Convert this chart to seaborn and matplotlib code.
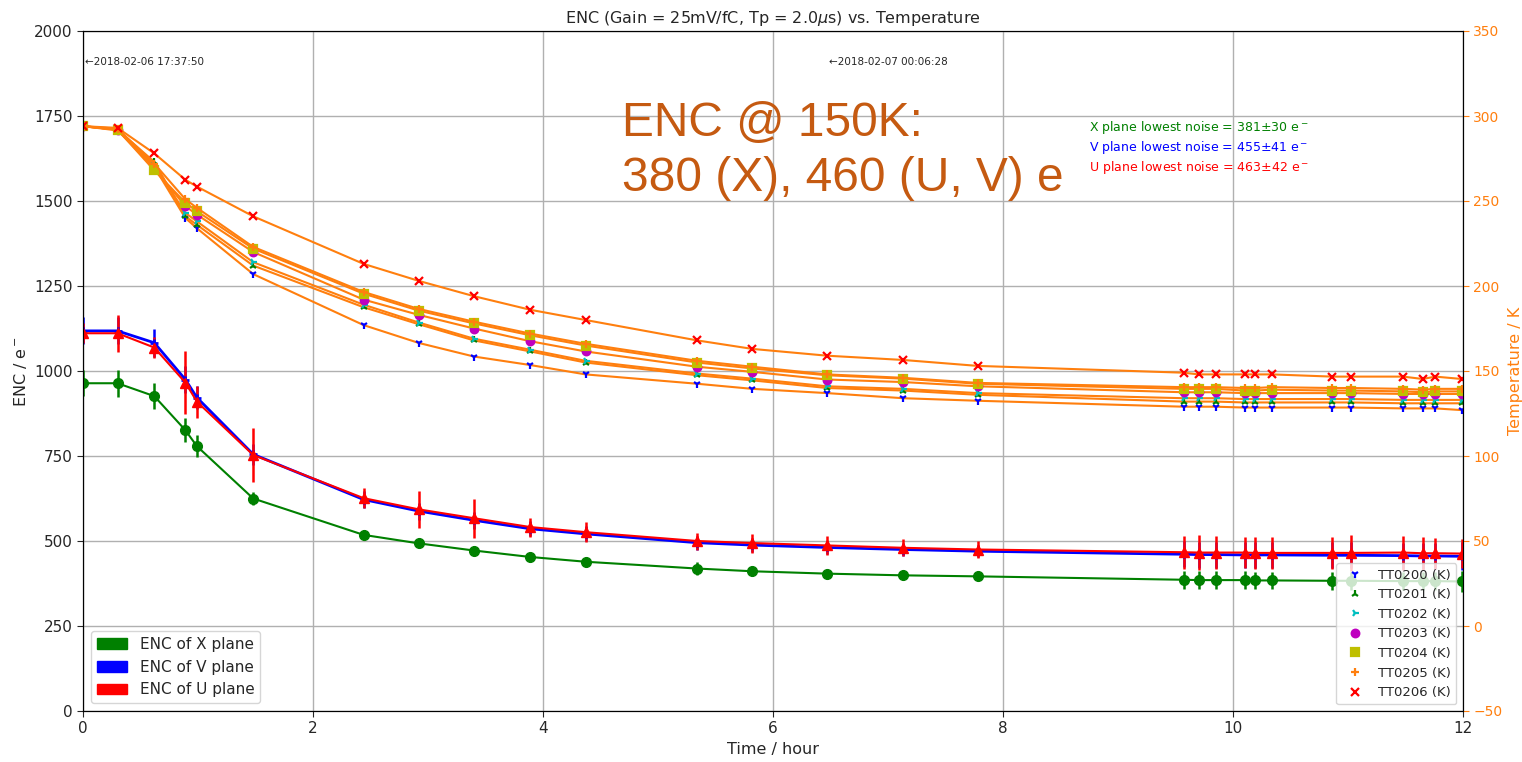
import matplotlib
matplotlib.use("Agg")
import matplotlib.pyplot as plt
import matplotlib.patches as mpatches
import seaborn as sns
import numpy as np

# ---------------- data ----------------
time_h = [0.0, 0.30, 0.62, 0.89, 0.99, 1.48, 2.44, 2.92, 3.40, 3.89, 4.37, 5.34, 5.82, 6.47,
          7.13, 7.78, 9.57, 9.70, 9.85, 10.10, 10.19, 10.34, 10.86, 11.03, 11.48, 11.65, 11.76, 11.99]

enc_x = [964, 964, 926, 826, 779, 625, 518, 493, 472, 453, 439, 419, 411, 404,
         399, 396, 386, 385, 385, 385, 384, 384, 383, 383, 382, 382, 382, 381]
err_x = [38, 40, 38, 36, 33, 20, 15, 12, 12, 12, 10, 18, 14, 12,
         10, 10, 26, 26, 26, 26, 26, 26, 26, 26, 26, 26, 26, 30]

enc_v = [1118, 1118, 1083, 975, 922, 755, 622, 588, 561, 536, 521, 495, 488, 481,
         475, 470, 461, 460, 460, 459, 459, 459, 458, 458, 457, 456, 456, 455]
err_v = [40, 40, 42, 40, 35, 30, 25, 25, 25, 22, 22, 20, 20, 20,
         20, 18, 38, 38, 38, 38, 38, 38, 38, 38, 38, 38, 38, 41]

enc_u = [1111, 1111, 1069, 966, 910, 753, 626, 593, 567, 541, 526, 500, 494, 487,
         480, 475, 467, 466, 466, 466, 465, 465, 465, 465, 466, 464, 464, 463]
err_u = [30, 54, 30, 92, 47, 80, 30, 54, 57, 28, 29, 25, 28, 28,
         25, 25, 48, 52, 48, 46, 48, 48, 48, 52, 50, 48, 46, 42]

tt0200 = [294, 291.5, 270, 240, 234, 207, 177, 166.5, 158.5, 153.5, 148, 142.5, 139.5, 137,
          134, 132.5, 129, 129, 129, 128.5, 128.5, 128.5, 128.5, 128.5, 128, 128, 128, 127]
tt0201 = [294, 292, 273, 241, 236, 212, 187.5, 177.5, 168, 161.5, 155, 147.5, 144.5, 140,
          138.5, 136, 132, 132, 132, 131.5, 131.5, 131.5, 131.5, 131.5, 131, 131, 131, 131]
tt0202 = [294, 292, 271, 243, 238, 214, 189, 178.5, 169, 162.5, 156, 148.5, 145.5, 141,
          139.5, 137, 134, 134, 134, 133.5, 133.5, 133.5, 133.5, 133.5, 133, 133, 133, 133]
tt0203 = [294, 292, 269, 247, 242, 220, 192, 183, 175, 167.5, 161.5, 152.5, 149.5, 145,
          143.5, 141, 137.5, 137.5, 137.5, 137, 137, 137, 137, 137, 136.5, 136.5, 136.5, 136.5]
tt0204 = [294, 292, 268, 249, 244, 222, 195.5, 185.5, 178, 171, 165, 155, 151.5, 147.5,
          145.5, 142.5, 139.5, 139.5, 139.5, 138.5, 138.5, 139, 138.5, 138.5, 138, 137.5, 138, 138]
tt0205 = [294, 292.5, 272, 251, 246, 223, 196.5, 186.5, 179, 172, 166, 156, 152.5, 148,
          146, 143, 140.5, 140.5, 140.5, 140, 140, 140.5, 140, 140, 139.5, 139, 139.5, 139.5]
tt0206 = [294, 293, 278, 262.5, 258.5, 241, 213, 203, 194, 186, 180, 168, 163, 159,
          156.5, 153, 149, 148, 148, 148, 148, 148, 146.7, 146.7, 146.7, 145.3, 146.7, 145.3]

sensor_names = ["TT0200 (K)", "TT0201 (K)", "TT0202 (K)", "TT0203 (K)",
                "TT0204 (K)", "TT0205 (K)", "TT0206 (K)"]
sensor_values = [tt0200, tt0201, tt0202, tt0203, tt0204, tt0205, tt0206]

title = r"ENC (Gain = 25mV/fC, Tp = 2.0$\mu$s) vs. Temperature"
stamp_labels = ["\u21902018-02-06 17:37:50", "\u21902018-02-07 00:06:28"]
stamp_times = [0.0, 6.47]
noise_texts = [r"X plane lowest noise = 381$\pm$30 e$^-$",
               r"V plane lowest noise = 455$\pm$41 e$^-$",
               r"U plane lowest noise = 463$\pm$42 e$^-$"]
big_text = "ENC @ 150K:\n380 (X), 460 (U, V) e"

# ---------------- styling ----------------
sns.set_style("white")
plt.rcParams['font.family'] = ['DejaVu Sans']

fig = plt.figure(figsize=(15.22, 7.62), dpi=100)
ax = fig.add_axes([83 / 1522, 1 - 711 / 762, (1463 - 83) / 1522, (711 - 31) / 762])
ax2 = ax.twinx()

orange = '#ff7f0e'
sens_markers = ['1', '2', '4', 'o', 's', '+', 'x']
sens_colors = ['b', 'g', 'c', 'm', '#bfbf00', orange, 'r']
sens_sizes = [6, 6, 6, 5.5, 5.5, 6, 6]

# ENC curves
ax.errorbar(time_h, enc_x, yerr=err_x, color='g', marker='o', ms=7, lw=1.5, elinewidth=1.8, zorder=3)
ax.errorbar(time_h, enc_v, yerr=err_v, color='b', marker='+', ms=6, mew=2, lw=2, elinewidth=1.8, zorder=3)
ax.errorbar(time_h, enc_u, yerr=err_u, color='r', marker='^', ms=7, lw=1.5, elinewidth=1.8, zorder=3)

# temperature curves
for name, vals, m, c, s in zip(sensor_names, sensor_values, sens_markers, sens_colors, sens_sizes):
    sns.lineplot(x=time_h, y=vals, ax=ax2, color=orange, lw=1.5, sort=False, estimator=None)
    ax2.plot(time_h, vals, ls='none', marker=m, color=c, ms=s, mew=1.6, label=name)

ax.set_xlim(0, 12)
ax.set_ylim(0, 2000)
ax.set_xticks(np.arange(0, 13, 2))
ax.set_yticks(np.arange(0, 2001, 250))
ax2.set_ylim(-50, 350)
ax2.set_yticks(np.arange(-50, 351, 50))
ax.grid(True, color='#b0b0b0', lw=1)
ax.set_axisbelow(True)

for sp in ax.spines.values():
    sp.set_color('black')
for sp in ax2.spines.values():
    sp.set_color('black')

ax.tick_params(axis='both', labelsize=11, direction='out', length=4, left=True, bottom=True)
ax2.tick_params(axis='y', labelsize=10, colors=orange, direction='out', length=4, right=True)
ax.set_xlabel("Time / hour", fontsize=11.5)
ax.set_ylabel("ENC / e$^-$", fontsize=11.5)
ax2.set_ylabel("Temperature / K", fontsize=11.5, color=orange)
ax.set_title(title, fontsize=11.5)

for s, tt in zip(stamp_labels, stamp_times):
    ax.text(tt + 0.02, 1910, s, fontsize=7.5, ha='left', va='center')

for txt, y, c in zip(noise_texts, [1715, 1657, 1600], ['g', 'b', 'r']):
    ax.text(8.75, y, txt, fontsize=9, color=c, ha='left', va='center')

ax.text(4.69, 1795, big_text, fontsize=34.5, color='#c55a11', ha='left', va='top',
        family=['Liberation Sans'], linespacing=1.3, zorder=5)

handles = [mpatches.Patch(color='g', label='ENC of X plane'),
           mpatches.Patch(color='b', label='ENC of V plane'),
           mpatches.Patch(color='r', label='ENC of U plane')]
ax.legend(handles=handles, loc='lower left', fontsize=11, frameon=True)
ax2.legend(loc='lower right', fontsize=9.5, frameon=True)

fig.savefig("out.png", dpi=100)
